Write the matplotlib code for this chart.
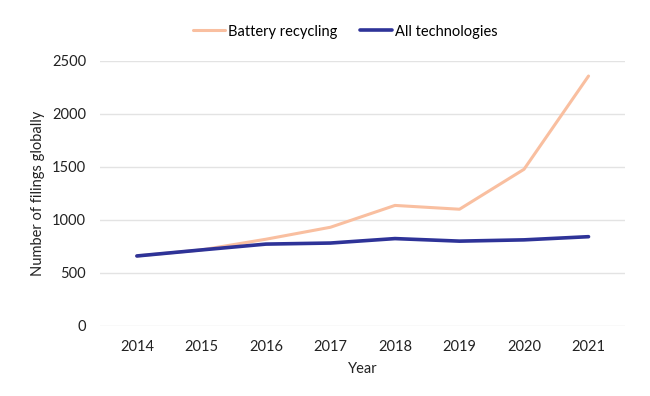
import matplotlib
matplotlib.use("Agg")
import matplotlib.pyplot as plt

years = [2014, 2015, 2016, 2017, 2018, 2019, 2020, 2021]
battery = [660, 717, 818, 931, 1137, 1101, 1478, 2358]
all_tech = [660, 717, 772, 782, 824, 800, 812, 842]

plt.rcParams["font.family"] = ["Lato", "DejaVu Sans"]

fig = plt.figure(figsize=(6.5, 3.96), dpi=100)
ax = fig.add_axes([0.154, 0.177, 0.808, 0.669])

ax.plot(years, battery, color="#F9BFA0", lw=2.2, label="Battery recycling", solid_capstyle="round")
ax.plot(years, all_tech, color="#2E3398", lw=2.6, label="All technologies", solid_capstyle="round")

ax.set_ylim(0, 2500)
ax.set_xlim(2013.43, 2021.57)
ax.set_yticks([0, 500, 1000, 1500, 2000, 2500])
ax.set_xticks(years)
ax.grid(axis="y", color="#e3e3e3", lw=1)
ax.set_axisbelow(True)
for s in ax.spines.values():
    s.set_visible(False)
ax.tick_params(length=0, labelsize=10.5, colors="#222222")
ax.tick_params(axis="x", pad=10)
ax.tick_params(axis="y", pad=10)

ax.set_xlabel("Year", fontsize=10.5, labelpad=6, color="#222222")
ax.set_ylabel("Number of filings globally", fontsize=10.5, labelpad=5, color="#222222")

ax.legend(loc="lower center", bbox_to_anchor=(0.467, 1.035), ncol=2, frameon=False,
          fontsize=10.5, handlelength=2.2, handletextpad=0.2, columnspacing=1.6)

fig.savefig("out.png", dpi=100)
